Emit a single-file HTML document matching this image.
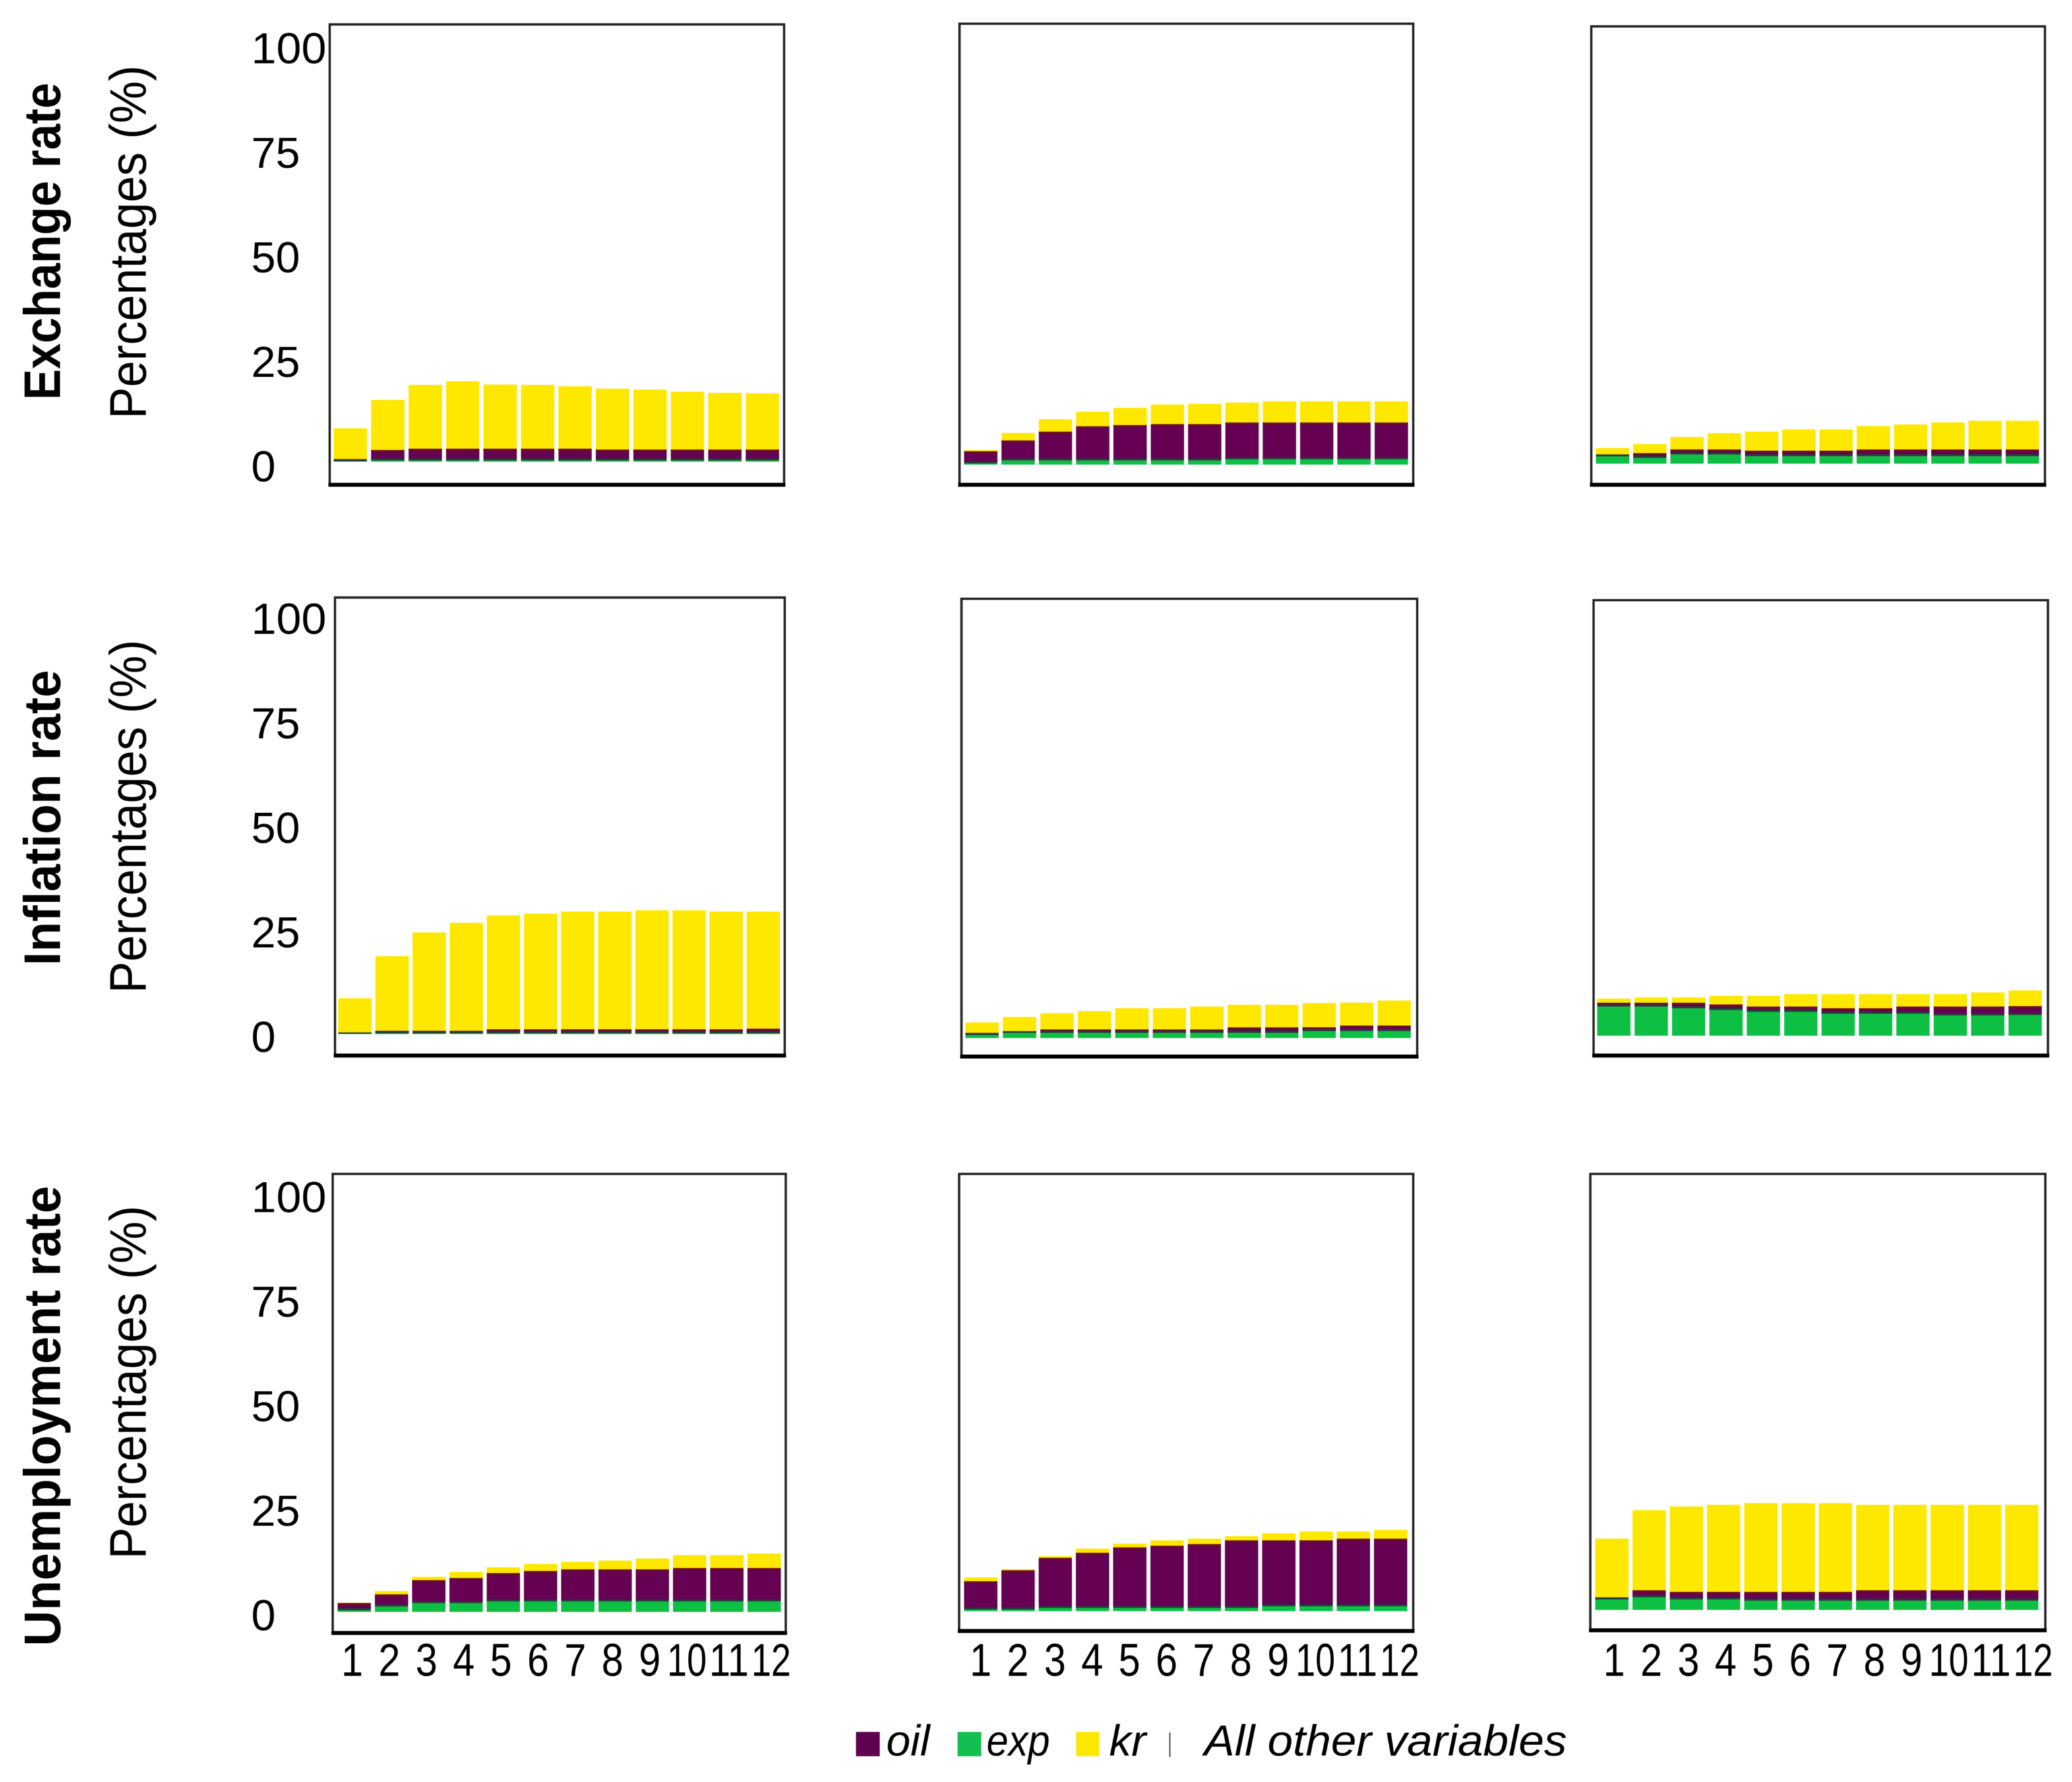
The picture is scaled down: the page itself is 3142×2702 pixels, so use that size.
<!DOCTYPE html>
<html><head><meta charset="utf-8"><title>Variance decomposition chart</title>
<style>
html,body{margin:0;padding:0;background:#fff}
svg{display:block;filter:blur(0.6px)}
text{font-family:"Liberation Sans",sans-serif;fill:#000}
</style></head>
<body>
<svg id="chart" xmlns="http://www.w3.org/2000/svg" width="3142" height="2702" viewBox="0 0 3142 2702">
<rect x="0" y="0" width="3142" height="2702" fill="#ffffff"/>
<g>
  <g>
    <rect x="1298" y="2626" width="36" height="37" fill="#600050"/>
    <text x="1344" y="2662" font-size="66" font-style="italic" textLength="66" lengthAdjust="spacingAndGlyphs">oil</text>
  </g>
  <g>
    <rect x="1452" y="2626" width="36" height="37" fill="#14bf50"/>
    <text x="1496" y="2662" font-size="66" font-style="italic" textLength="96" lengthAdjust="spacingAndGlyphs">exp</text>
  </g>
  <g>
    <rect x="1632" y="2626" width="35" height="37" fill="#ffe800"/>
    <text x="1682" y="2662" font-size="66" font-style="italic" textLength="56" lengthAdjust="spacingAndGlyphs">kr</text>
  </g>
  <g>
    <rect x="1773" y="2627" width="2" height="37" fill="#555555"/>
    <text x="1826" y="2662" font-size="66" font-style="italic" textLength="550" lengthAdjust="spacingAndGlyphs">All other variables</text>
  </g>
</g>
</svg>
<script>
const horizons = ['1','2','3','4','5','6','7','8','9','10','11','12'];
const yTickLabels = [0, 25, 50, 75, 100];
const rowTitles = ['Exchange rate', 'Inflation rate', 'Unemployment rate'];

const expR1C1 = [0.1,0.3,0.3,0.3,0.3,0.3,0.3,0.3,0.3,0.3,0.3,0.3];
const oilR1C1 = [0.5,2.5,2.8,2.8,2.8,2.8,2.8,2.6,2.6,2.6,2.6,2.6];
const krR1C1  = [7.4,12.0,15.3,16.2,15.4,15.3,15.0,14.6,14.4,13.9,13.6,13.5];

const expR1C2 = [0.3,1,1,1,1,1,1,1.3,1.3,1.3,1.3,1.3];
const oilR1C2 = [2.9,4.8,6.9,8.2,8.5,8.7,8.7,8.8,8.8,8.8,8.8,8.8];
const krR1C2  = [0.3,1.8,3.0,3.5,4.1,4.7,4.9,4.8,5.1,5.1,5.1,5.1];

const expR1C3 = [1.75,1.4,2.2,2.2,1.8,1.8,1.8,1.8,1.8,1.8,1.8,1.8];
const oilR1C3 = [0.45,1.1,1.2,1.2,1.3,1.3,1.3,1.6,1.6,1.6,1.6,1.6];
const krR1C3  = [1.55,2.2,3.0,3.9,4.6,5.1,5.1,5.6,6.0,6.5,6.9,6.9];

const expR2C1 = [0.1,0.2,0.2,0.2,0.2,0.2,0.2,0.2,0.2,0.2,0.2,0.2];
const oilR2C1 = [0.3,0.6,0.6,0.6,0.95,0.95,0.95,0.95,0.95,0.95,0.95,1.1];
const krR2C1  = [8.2,17.9,23.6,25.9,27.35,27.75,28.25,28.25,28.55,28.55,28.25,28.1];

const expR2C2 = [0.75,1.27,1.27,1.27,1.27,1.27,1.27,1.27,1.27,1.7,1.7,1.7];
const oilR2C2 = [0.5,0.4,0.8,0.8,0.8,0.8,0.8,1.3,1.3,0.9,1.3,1.3];
const krR2C2  = [2.5,3.4,3.9,4.4,5.1,5.1,5.5,5.4,5.4,5.8,5.5,6.0];

const expR2C3 = [7.0,7.0,6.6,6.2,5.75,5.75,5.3,5.3,5.3,4.9,4.9,5.0];
const oilR2C3 = [0.9,0.9,1.3,1.3,1.25,1.25,1.3,1.3,1.7,2.1,2.1,2.1];
const krR2C3  = [1.0,1.3,1.3,2.1,2.6,3.0,3.4,3.4,3.0,3.0,3.4,3.8];

const expR3C1 = [0.4,1.3,2.1,2.1,2.5,2.5,2.5,2.5,2.5,2.5,2.5,2.5];
const oilR3C1 = [1.7,2.9,5.5,6.0,6.8,7.3,7.7,7.7,7.7,8.0,8.0,8.0];
const krR3C1  = [0.1,0.8,0.8,1.5,1.4,1.7,1.8,2.1,2.6,3.1,3.1,3.5];

const expR3C2 = [0.4,0.4,0.8,0.8,0.8,0.8,0.8,0.8,1.2,1.2,1.2,1.2];
const oilR3C2 = [6.8,9.4,12.0,13.2,14.5,14.9,15.3,16.2,15.8,15.8,16.2,16.2];
const krR3C2  = [0.9,0.3,0.4,1.0,0.9,1.3,1.3,1.0,1.7,2.1,1.7,2.1];

const expR3C3 = [2.5,3.0,2.5,2.5,2.2,2.2,2.2,2.2,2.2,2.2,2.2,2.2];
const oilR3C3 = [0.5,1.7,1.8,1.8,2.1,2.1,2.1,2.5,2.5,2.5,2.5,2.5];
const krR3C3  = [14.1,19.2,20.5,20.9,21.3,21.3,21.3,20.5,20.5,20.5,20.5,20.5];

const panelData = [
  [[expR1C1,oilR1C1,krR1C1],[expR1C2,oilR1C2,krR1C2],[expR1C3,oilR1C3,krR1C3]],
  [[expR2C1,oilR2C1,krR2C1],[expR2C2,oilR2C2,krR2C2],[expR2C3,oilR2C3,krR2C3]],
  [[expR3C1,oilR3C1,krR3C1],[expR3C2,oilR3C2,krR3C2],[expR3C3,oilR3C3,krR3C3]]
];

const NS = 'http://www.w3.org/2000/svg';
const svg = document.getElementById('chart');
const PX_PER_PCT = 6.32;
const TICK_PX_PER_PCT = 6.34;
const BAR_WIDTH = 50.5;
const COLORS = {exp:'#0dc044', oil:'#650052', kr:'#ffe800'};

/* layout of each panel: frame box, first bar left edge, bar pitch, zero baseline, first x label centre */
const layout = [
  [{l:500,t:37,r:1189,b:735,x0:506,p:56.8,y0:700,lx:0},{l:1455,t:36,r:2143,b:735,x0:1462,p:56.6,y0:704.5,lx:0},{l:2413,t:40,r:3101,b:735,x0:2420,p:56.5,y0:703,lx:0}],
  [{l:508,t:906,r:1190,b:1600.5,x0:513,p:56.3,y0:1568,lx:0},{l:1458,t:908,r:2149,b:1602,x0:1464,p:56.8,y0:1574,lx:0},{l:2416.5,t:910,r:3105.5,b:1600.5,x0:2422,p:56.7,y0:1570.5,lx:0}],
  [{l:504.5,t:1780,r:1191.5,b:2476,x0:512,p:56.5,y0:2444,lx:534},{l:1454.5,t:1780,r:2143,b:2473,x0:1462,p:56.5,y0:2443,lx:1487},{l:2411.6,t:1780,r:3101.6,b:2472,x0:2419,p:56.5,y0:2441,lx:2447.6}]
];
const yTickRowZero = [707, 1572, 2449];
const rowTitleBoxes = [{mid:366,len:481},{mid:1240,len:448},{mid:2147,len:698}];
const yTitleMids = [367, 1238, 2096];

function yScale(panel, v){ return panel.y0 - v * PX_PER_PCT; }
function xScale(panel, i){ return panel.x0 + i * panel.p; }
function xLabelPos(panel, i){ return panel.lx + i * 56.4 + (i >= 10 ? (i - 9) * 7.5 : 0); }

function make(tag, attrs, parent){
  const el = document.createElementNS(NS, tag);
  for (const k in attrs) el.setAttribute(k, attrs[k]);
  parent.appendChild(el);
  return el;
}

rowTitles.forEach(function(title, r){
  const mid = rowTitleBoxes[r].mid;
  const rowTitle = make('text', {x:0, y:0, 'font-size':78, 'font-weight':'bold', 'text-anchor':'middle', textLength:rowTitleBoxes[r].len, lengthAdjust:'spacingAndGlyphs', transform:'translate(91 ' + mid + ') rotate(-90)'}, svg);
  
  
  rowTitle.textContent = title;

  const yTitle = make('text', {x:0, y:0, 'font-size':78, 'text-anchor':'middle', textLength:536, lengthAdjust:'spacingAndGlyphs', transform:'translate(221 ' + yTitleMids[r] + ') rotate(-90)'}, svg);
  
  
  yTitle.textContent = 'Percentages (%)';

  yTickLabels.forEach(function(t){
    const tick = make('text', {x:381, y:yTickRowZero[r] - t * TICK_PX_PER_PCT + 23, 'font-size':66, textLength:(String(t).length === 3 ? 114 : String(t).length * 37), lengthAdjust:'spacingAndGlyphs'}, svg);
    
    
    tick.textContent = t;
  });

  layout[r].forEach(function(panel, c){
    const g = make('g', {}, svg);
    
    

    const frame = make('rect', {x:panel.l, y:panel.t, width:panel.r - panel.l, height:panel.b - panel.t, fill:'#ffffff', stroke:'#222222', 'stroke-width':3.5}, g);
    
    

    const axis = make('line', {x1:panel.l - 2, x2:panel.r + 2, y1:panel.b, y2:panel.b, stroke:'#000000', 'stroke-width':6}, g);
    
    

    const exp = panelData[r][c][0], oil = panelData[r][c][1], kr = panelData[r][c][2];
    horizons.forEach(function(h, i){
      const x = xScale(panel, i);
      const yExp = yScale(panel, exp[i]);
      const yOil = yScale(panel, exp[i] + oil[i]);
      const yKr  = yScale(panel, exp[i] + oil[i] + kr[i]);

      const barExp = make('rect', {x:x, y:yExp, width:BAR_WIDTH, height:panel.y0 - yExp, fill:COLORS.exp}, g);
      
      

      const barOil = make('rect', {x:x, y:yOil, width:BAR_WIDTH, height:yExp - yOil, fill:COLORS.oil}, g);
      
      

      const barKr = make('rect', {x:x, y:yKr, width:BAR_WIDTH, height:yOil - yKr, fill:COLORS.kr}, g);
      
      

      const seamTop = make('rect', {x:x, y:yOil, width:BAR_WIDTH, height:Math.min(3, yExp - yOil), fill:'#6a0f1c'}, g);
      
      

      const seamLow = make('rect', {x:x, y:yExp - Math.min(3, yExp - yOil), width:BAR_WIDTH, height:Math.min(3, yExp - yOil), fill:'#263c3c'}, g);
      
      

      if (panel.lx > 0) {
        const lab = make('text', {x:xLabelPos(panel, i), y:2541, 'font-size':70, 'text-anchor':'middle', textLength:(h.length === 2 ? 60 : 33), lengthAdjust:'spacingAndGlyphs'}, g);
        
        
        lab.textContent = h;
      }
    });
  });
});
</script>
</body></html>
